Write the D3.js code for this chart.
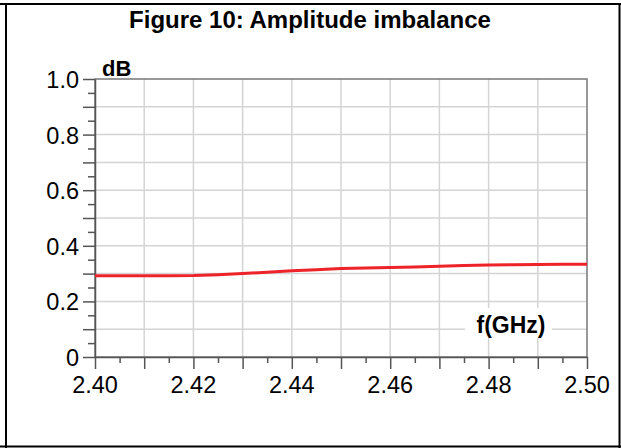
<!DOCTYPE html>
<html><head><meta charset="utf-8">
<script src="https://cdn.jsdelivr.net/npm/d3@7"></script>
<style>html,body{margin:0;padding:0;background:#fff;}svg{display:block;}</style>
</head><body>
<svg id="c" width="621" height="448"></svg>
<script>
const title = "Figure 10: Amplitude imbalance";
const yUnit = "dB";
const xUnit = "f(GHz)";
const freqs = [2.400,2.405,2.410,2.415,2.420,2.425,2.430,2.435,2.440,2.445,2.450,2.455,2.460,2.465,2.470,2.475,2.480,2.485,2.490,2.495,2.500];
const imbalance = [0.292,0.292,0.292,0.292,0.293,0.296,0.300,0.305,0.310,0.314,0.318,0.320,0.322,0.324,0.326,0.329,0.331,0.332,0.333,0.334,0.334];
const xTickLabels = [2.40,2.42,2.44,2.46,2.48,2.50];
const yTickLabels = [0,0.2,0.4,0.6,0.8,1.0];

const svg = d3.select("#c");
const font = "Liberation Sans, Arial, sans-serif";
const L=95,R=587,T=79,B=357;
const x = d3.scaleLinear().domain([2.40,2.50]).range([L,R]);
const y = d3.scaleLinear().domain([0,1]).range([B,T]);

// outer frame
svg.append("line").attr("x1",0).attr("x2",621).attr("y1",4).attr("y2",4).attr("stroke","#000").attr("stroke-width",2);
svg.append("line").attr("x1",6).attr("x2",6).attr("y1",3).attr("y2",448).attr("stroke","#000").attr("stroke-width",2);
svg.append("line").attr("x1",619.5).attr("x2",619.5).attr("y1",3).attr("y2",448).attr("stroke","#000").attr("stroke-width",2);
svg.append("line").attr("x1",0).attr("x2",621).attr("y1",446.5).attr("y2",446.5).attr("stroke","#000").attr("stroke-width",2);

svg.append("text").attr("x",310).attr("y",28).attr("text-anchor","middle")
  .attr("font-family",font).attr("font-weight","bold").attr("font-size",24).text(title);

// grid
const xGrid = d3.range(1,10).map(i=>2.40+i*0.01);
const yGrid = d3.range(1,10).map(i=>i*0.1);
const g = svg.append("g");
g.selectAll(".vg").data(xGrid).join("line").attr("x1",d=>x(d)).attr("x2",d=>x(d)).attr("y1",T).attr("y2",B)
  .attr("stroke","#d4d4d4").attr("stroke-width",1.5);
g.selectAll(".hg").data(yGrid).join("line").attr("x1",L).attr("x2",R).attr("y1",d=>y(d)).attr("y2",d=>y(d))
  .attr("stroke","#d4d4d4").attr("stroke-width",1.5);

// frame
svg.append("rect").attr("x",L).attr("y",T).attr("width",R-L).attr("height",B-T)
  .attr("fill","none").attr("stroke","#777").attr("stroke-width",1.5);

// axes
const xAxis = d3.axisBottom(x).tickValues(d3.range(0,21).map(i=>2.40+i*0.005))
  .tickSizeOuter(0).tickSizeInner(12).tickFormat("");
const xa = svg.append("g").attr("transform",`translate(0,${B})`).call(xAxis);
xa.select(".domain").attr("stroke","#555").attr("stroke-width",1.5);
xa.selectAll(".tick line").attr("stroke","#555").attr("stroke-width",1.5)
  .attr("y2",(d,i)=> i%2===0?12:6);
svg.selectAll(".xl").data(xTickLabels).join("text").attr("x",d=>x(d)).attr("y",393)
  .attr("text-anchor","middle").attr("font-family",font).attr("font-size",23.5).text(d=>d.toFixed(2));

const yAxis = d3.axisLeft(y).tickValues(d3.range(0,21).map(i=>i*0.05))
  .tickSizeOuter(0).tickSizeInner(12).tickFormat("");
const ya = svg.append("g").attr("transform",`translate(${L},0)`).call(yAxis);
ya.select(".domain").attr("stroke","#555").attr("stroke-width",1.5);
ya.selectAll(".tick line").attr("stroke","#555").attr("stroke-width",1.5)
  .attr("x2",(d,i)=> i%2===0?-12:-7);
svg.selectAll(".yl").data(yTickLabels).join("text").attr("x",79).attr("y",d=>y(d)+9)
  .attr("text-anchor","end").attr("font-family",font).attr("font-size",23.5).text(d=>d===0?"0":d.toFixed(1));

// unit labels
svg.append("rect").attr("x",465).attr("y",308).attr("width",87).attr("height",30).attr("fill","#fff");
svg.append("text").attr("x",511).attr("y",333).attr("text-anchor","middle")
  .attr("font-family",font).attr("font-weight","bold").attr("font-size",23).text(xUnit);
svg.append("text").attr("x",102).attr("y",76)
  .attr("font-family",font).attr("font-weight","bold").attr("font-size",22).text(yUnit);

// data line
const line = d3.line().x((d,i)=>x(freqs[i])).y(d=>y(d));
svg.append("path").datum(imbalance).attr("d",line).attr("fill","none")
  .attr("stroke","#ee2229").attr("stroke-width",3);
</script>
</body></html>
